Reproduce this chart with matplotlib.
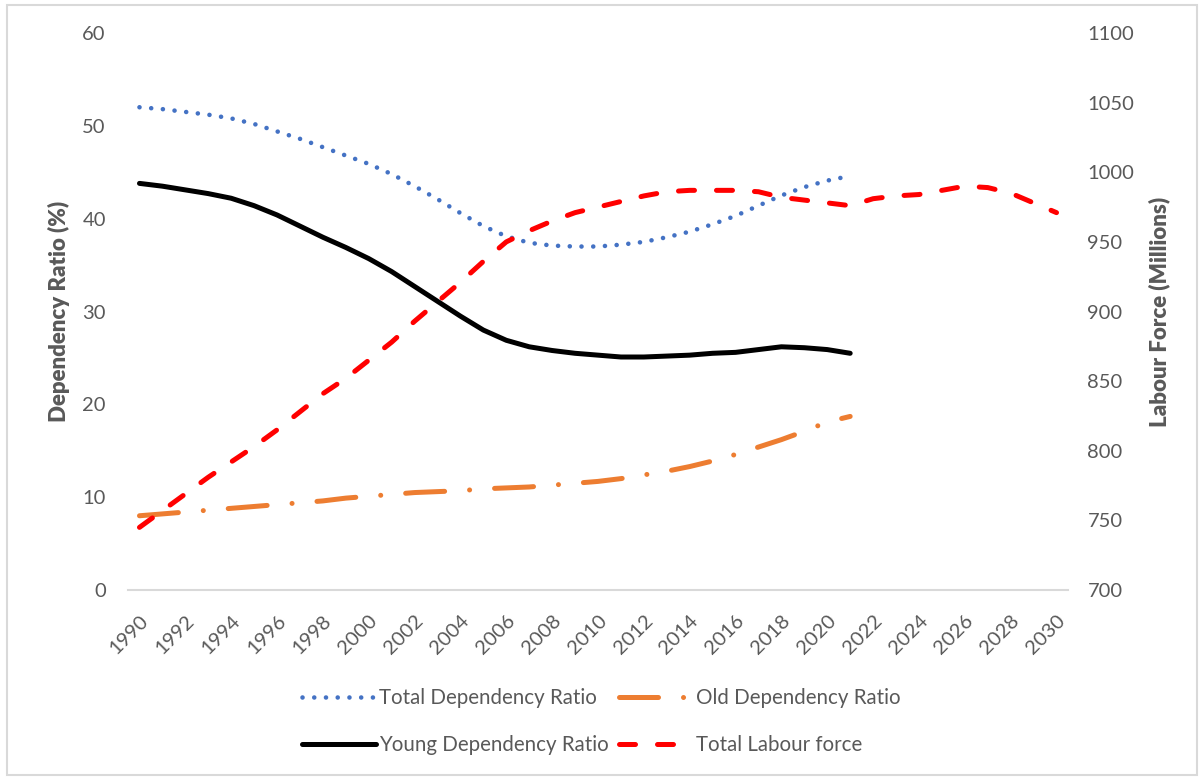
import matplotlib
matplotlib.use("Agg")
import matplotlib.pyplot as plt
from matplotlib.patches import Rectangle

plt.rcParams["font.family"] = ["Lato", "DejaVu Sans"]

GREY = "#595959"
C_BLUE = "#4472C4"
C_ORANGE = "#ED7D31"
C_RED = "#FF0000"

# dependency ratios 1990-2021 (%), labour force 1990-2030 (millions)
years_dep = list(range(1990, 2022))
years_lab = list(range(1990, 2031))

total_dep = [52.0, 51.8, 51.5, 51.2, 50.8, 50.2, 49.4, 48.6, 47.7, 46.8,
             45.9, 44.8, 43.5, 42.1, 40.6, 39.2, 38.1, 37.4, 37.1, 37.0,
             37.0, 37.2, 37.5, 38.0, 38.6, 39.4, 40.3, 41.4, 42.5, 43.4,
             44.1, 44.6]
old_dep = [8.0, 8.2, 8.4, 8.6, 8.8, 9.0, 9.2, 9.4, 9.6, 9.9,
           10.1, 10.3, 10.5, 10.6, 10.7, 10.9, 11.0, 11.1, 11.3, 11.5,
           11.7, 12.0, 12.4, 12.8, 13.3, 13.9, 14.6, 15.4, 16.2, 17.1,
           18.1, 18.7]
young_dep = [43.8, 43.5, 43.1, 42.7, 42.2, 41.4, 40.4, 39.2, 38.0, 36.9,
             35.7, 34.3, 32.7, 31.1, 29.5, 28.0, 26.9, 26.2, 25.8, 25.5,
             25.3, 25.1, 25.1, 25.2, 25.3, 25.5, 25.6, 25.9, 26.2, 26.1,
             25.9, 25.5]
labour = [745, 757, 769, 781, 792, 803, 815, 828, 841, 852,
          865, 878, 893, 907, 921, 936, 950, 958, 965, 971,
          975, 979, 983, 986, 987, 987, 987, 986, 982, 980,
          978, 976, 981, 983, 984, 987, 990, 989, 985, 978,
          971]

fig = plt.figure(figsize=(12.02, 7.78), dpi=100)
ax = fig.add_axes([0.1065, 0.2416, 0.782, 0.7160])
ax2 = ax.twinx()

l_total, = ax.plot(years_dep, total_dep, color=C_BLUE, lw=3.3,
                   dashes=(0.01, 2.55), dash_capstyle="round")
l_old, = ax.plot(years_dep, old_dep, color=C_ORANGE, lw=3.6,
                 dashes=(7.8, 5, 0.01, 5), dash_capstyle="round")
l_young, = ax.plot(years_dep, young_dep, color="black", lw=3.6,
                   solid_capstyle="round")
l_lab, = ax2.plot(years_lab, labour, color=C_RED, lw=3.6,
                  dashes=(3.2, 4.4), dash_capstyle="round")

ax.set_xlim(1989.5, 2030.5)
ax.set_ylim(0, 60)
ax2.set_ylim(700, 1100)
ax.set_yticks(range(0, 61, 10))
ax2.set_yticks(range(700, 1101, 50))
ax.set_xticks(range(1990, 2031, 2))
ax.set_xticklabels([str(y) for y in range(1990, 2031, 2)], rotation=45,
                   ha="right", va="top", rotation_mode="anchor")

for a in (ax, ax2):
    for s in a.spines.values():
        s.set_visible(False)
    a.tick_params(length=0, labelsize=14.5, labelcolor=GREY)
ax.tick_params(axis="y", pad=16)
ax2.tick_params(axis="y", pad=14)
ax.tick_params(axis="x", pad=16)
ax.spines["bottom"].set_visible(True)
ax.spines["bottom"].set_color("#D9D9D9")
ax.spines["bottom"].set_linewidth(1.5)

ax.set_ylabel("Dependency Ratio (%)", fontsize=16, fontweight="heavy",
              color=GREY, labelpad=9)
ax2.set_ylabel("Labour Force (Millions)", fontsize=16, fontweight="heavy",
               color=GREY, labelpad=10)

fig.legend([l_total, l_young, l_old, l_lab],
           ["Total Dependency Ratio", "Young Dependency Ratio",
            "Old Dependency Ratio", "Total Labour force"],
           ncol=2, loc="center", bbox_to_anchor=(0.5, 0.0726),
           frameon=False, fontsize=14.8, handlelength=3.6, labelcolor=GREY,
           columnspacing=0.5, handletextpad=0.15, labelspacing=1.3)

fig.add_artist(Rectangle((0.006, 0.004), 0.99, 0.99, transform=fig.transFigure,
                         fill=False, edgecolor="#D9D9D9", lw=1.5))

fig.savefig("out.png", dpi=100)
